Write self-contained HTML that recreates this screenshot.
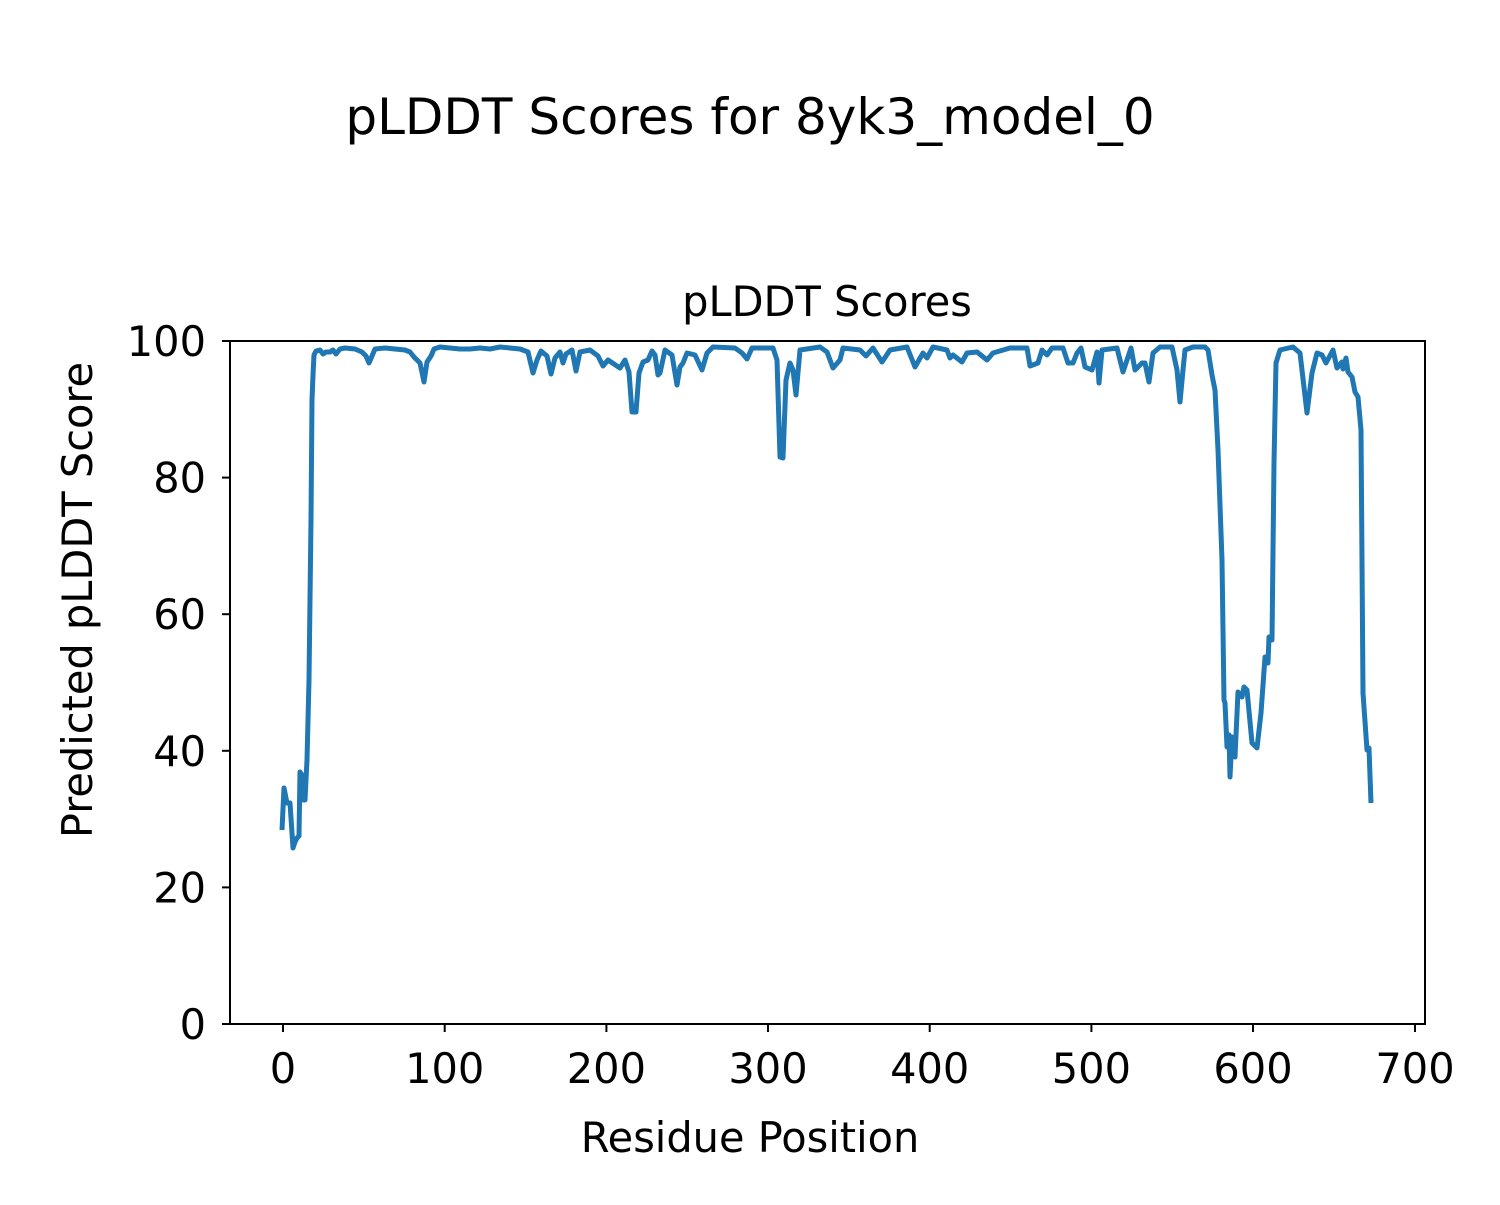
<!DOCTYPE html>
<html><head><style>html,body{margin:0;padding:0;background:#fff}</style></head><body>
<svg width="1500" height="1200" xmlns="http://www.w3.org/2000/svg" font-family="DejaVu Sans, Liberation Sans, sans-serif">
<rect width="1500" height="1200" fill="#fff"/>
<text x="750" y="134" font-size="50" text-anchor="middle">pLDDT Scores for 8yk3_model_0</text>
<text x="827" y="316" font-size="41.5" text-anchor="middle">pLDDT Scores</text>
<polyline fill="none" stroke="#1f77b4" stroke-width="5" stroke-linejoin="round" points="
282,830 284,788 287,803 290,803 293,848 295,842 297,838 299,836 300,772 302,775 303,800 305,800 307,760 309,680 311,520 312,400 313,375 314,355 316,351 320,350 323,354 326,352 330,352 333,350 336,354 340,349 345,348 355,349 362,352 366,356 369,363 372,356 375,349 385,348 395,349 405,350 410,352 414,357 420,363 424,382 427,362 431,356 434,349 440,347 450,348 460,349 470,349 480,348 490,349 500,347 510,348 520,349 528,352 533,373 537,360 541,351 547,356 551,374 555,358 560,352 563,363 566,354 572,350 576,371 580,352 590,350 598,356 603,366 608,360 614,364 620,368 625,360 629,372 632,412 636,412 639,373 643,362 648,360 652,351 655,355 658,375 660,373 665,350 672,355 677,385 680,367 683,363 687,353 695,355 702,370 707,353 713,347 735,348 742,353 747,359 752,348 773,348 777,360 780,457 783,458 786,380 790,363 793,370 796,395 800,350 820,347 827,352 833,368 840,360 843,348 860,350 866,356 873,348 882,362 890,350 907,347 915,367 923,353 927,358 933,347 947,350 950,358 953,355 962,362 967,353 977,352 987,360 993,353 1010,348 1027,348 1030,366 1038,363 1042,350 1047,355 1052,348 1063,348 1068,363 1073,363 1077,353 1081,348 1085,367 1092,370 1097,352 1099,383 1102,350 1117,348 1123,372 1131,348 1135,370 1142,363 1145,363 1149,382 1153,353 1160,347 1172,347 1177,370 1180,402 1183,370 1185,350 1193,347 1205,347 1208,350 1212,375 1215,390 1218,450 1222,560 1224,700 1225,703 1227,747 1229,735 1230,777 1232,737 1235,757 1238,692 1242,697 1244,687 1247,690 1252,743 1257,748 1261,713 1265,657 1268,663 1269,637 1272,640 1274,463 1276,363 1280,350 1293,347 1300,353 1307,413 1312,373 1317,353 1322,355 1326,363 1333,350 1337,368 1342,362 1343,369 1346,358 1348,372 1352,377 1355,392 1358,397 1361,430 1363,693 1367,750 1369,748 1371,803"/>
<rect x="230" y="341" width="1195" height="683" fill="none" stroke="#000" stroke-width="2"/>
<g stroke="#000" stroke-width="2">
<line x1="283" y1="1024" x2="283" y2="1032"/><line x1="444.7" y1="1024" x2="444.7" y2="1032"/><line x1="606.4" y1="1024" x2="606.4" y2="1032"/><line x1="768" y1="1024" x2="768" y2="1032"/><line x1="929.7" y1="1024" x2="929.7" y2="1032"/><line x1="1091.4" y1="1024" x2="1091.4" y2="1032"/><line x1="1253" y1="1024" x2="1253" y2="1032"/><line x1="1415" y1="1024" x2="1415" y2="1032"/>
<line x1="222" y1="341" x2="230" y2="341"/><line x1="222" y1="477.6" x2="230" y2="477.6"/><line x1="222" y1="614.2" x2="230" y2="614.2"/><line x1="222" y1="750.8" x2="230" y2="750.8"/><line x1="222" y1="887.4" x2="230" y2="887.4"/><line x1="222" y1="1024" x2="230" y2="1024"/>
</g>
<g font-size="41.5" text-anchor="middle">
<text x="283" y="1083">0</text><text x="444.7" y="1083">100</text><text x="606.4" y="1083">200</text><text x="768" y="1083">300</text><text x="929.7" y="1083">400</text><text x="1091.4" y="1083">500</text><text x="1253" y="1083">600</text><text x="1415" y="1083">700</text>
</g>
<g font-size="41.5" text-anchor="end">
<text x="206" y="356">100</text><text x="206" y="492.6">80</text><text x="206" y="629.2">60</text><text x="206" y="765.8">40</text><text x="206" y="902.4">20</text><text x="206" y="1039">0</text>
</g>
<text x="750" y="1152" font-size="41.5" text-anchor="middle">Residue Position</text>
<text transform="translate(92,600) rotate(-90)" font-size="41.5" text-anchor="middle">Predicted pLDDT Score</text>
</svg>
</body></html>
